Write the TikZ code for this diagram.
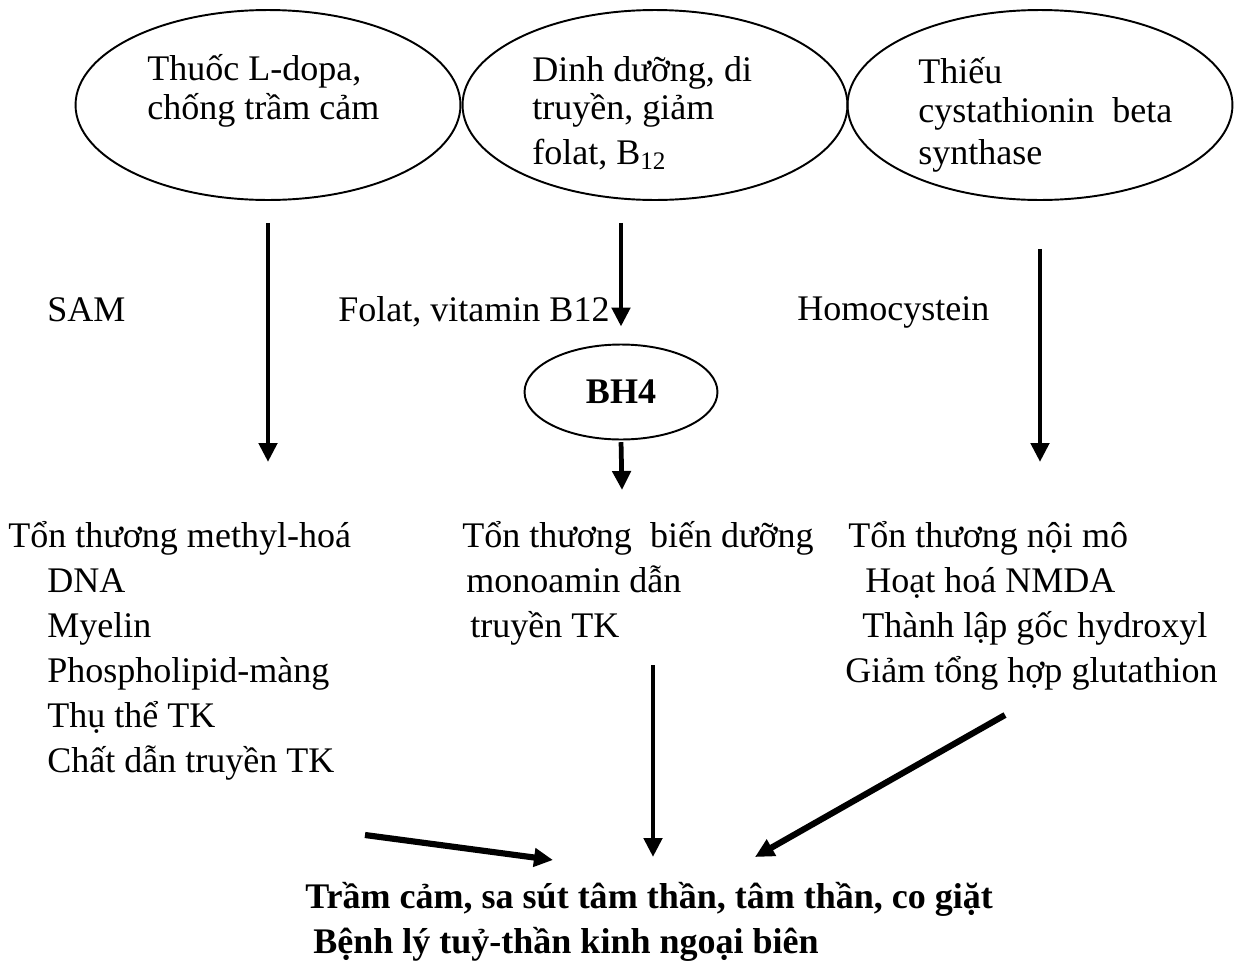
\documentclass[tikz,border=0pt]{standalone}
\usepackage{fontspec}
\setmainfont{Liberation Serif}
\usetikzlibrary{shapes.geometric,arrows.meta}

\begin{document}
\begin{tikzpicture}[x=0.02cm, y=-0.02cm,
  cause/.style={ellipse, draw, line width=1.1pt, minimum width=7.7cm, minimum height=3.8cm},
  txt/.style={anchor=base west, inner sep=0pt, align=left, font=\fontsize{20.5}{25.6}\selectfont},
  intxt/.style={txt, font=\fontsize{20.5}{21.8}\selectfont},
  arr/.style={line width=2.7pt, -{Triangle[length=0.38cm,width=0.36cm]}},
  thickarr/.style={arr, line width=3.5pt}]
  \useasboundingbox (0,0) rectangle (1235,964);
  % causes (multi-line texts sit on their last baseline)
  \node[cause] (e1) at (268,105) {};
  \node[cause] (e2) at (655,105) {};
  \node[cause] (e3) at (1040,105) {};
  \node[intxt] (t1) at (147,119) {Thuốc L-dopa,\\chống trầm cảm};
  \node[intxt] (t2) at (532,164) {Dinh dưỡng, di\\truyền, giảm\\[3.5pt]folat, B\textsubscript{12}};
  \node[intxt] (t3) at (918,164) {Thiếu\\cystathionin\ \ beta\\[2pt]synthase};
  % middle labels
  \node[txt] (sam) at (47,321) {SAM};
  \node[txt] (folat) at (338,321) {Folat, vitamin B12};
  \node[txt] (homo) at (797,320) {Homocystein};
  \node[ellipse, draw, line width=1.1pt, minimum width=3.86cm, minimum height=1.9cm,
    font=\fontsize{20.5}{24}\selectfont\bfseries] (bh4) at (621,392) {BH4};
  % damage
  \node[txt] (d1) at (8,772) {Tổn thương methyl-hoá\\
    \hspace*{0.78cm}DNA\\
    \hspace*{0.78cm}Myelin\\
    \hspace*{0.78cm}Phospholipid-màng\\
    \hspace*{0.78cm}Thụ thể TK\\
    \hspace*{0.78cm}Chất dẫn truyền TK};
  \node[txt] (d2) at (462,637) {Tổn thương\ \ biến dưỡng\\
    \hspace*{0.08cm}monoamin dẫn\\
    \hspace*{0.16cm}truyền TK};
  \node[txt] (d3) at (845,682) {\hspace*{0.06cm}Tổn thương nội mô\\
    \hspace*{0.4cm}Hoạt hoá NMDA\\
    \hspace*{0.34cm}Thành lập gốc hydroxyl\\
    Giảm tổng hợp glutathion};
  % result
  \node[txt, font=\fontsize{20.5}{25.6}\selectfont\bfseries] (res) at (305,953)
    {Trầm cảm, sa sút tâm thần, tâm thần, co giặt\\
     \hspace*{0.16cm}Bệnh lý tuỷ-thần kinh ngoại biên};
  % arrow ends
  \coordinate (a1) at (268,462);
  \coordinate (a3) at (622,490);
  \coordinate (a4) at (1040,462);
  \coordinate (b1s) at (365,835);
  \coordinate (b1) at (553,860);
  \coordinate (b2s) at (653,665);
  \coordinate (b2) at (653,857);
  \coordinate (b3s) at (1005,715);
  \coordinate (b3) at (755,857);
  \draw[arr, shorten <=0.44cm] (e1.south) -- (a1);
  \draw[arr, shorten <=0.44cm, shorten >=0.34cm] (e2.south -| bh4.north) -- (bh4.north);
  \draw[arr, shorten <=1pt] (bh4.south) -- (a3);
  \draw[arr, shorten <=0.96cm] (e3.south) -- (a4);
  \draw[thickarr] (b1s) -- (b1);
  \draw[arr] (b2s) -- (b2);
  \draw[thickarr] (b3s) -- (b3);
\end{tikzpicture}
\end{document}
